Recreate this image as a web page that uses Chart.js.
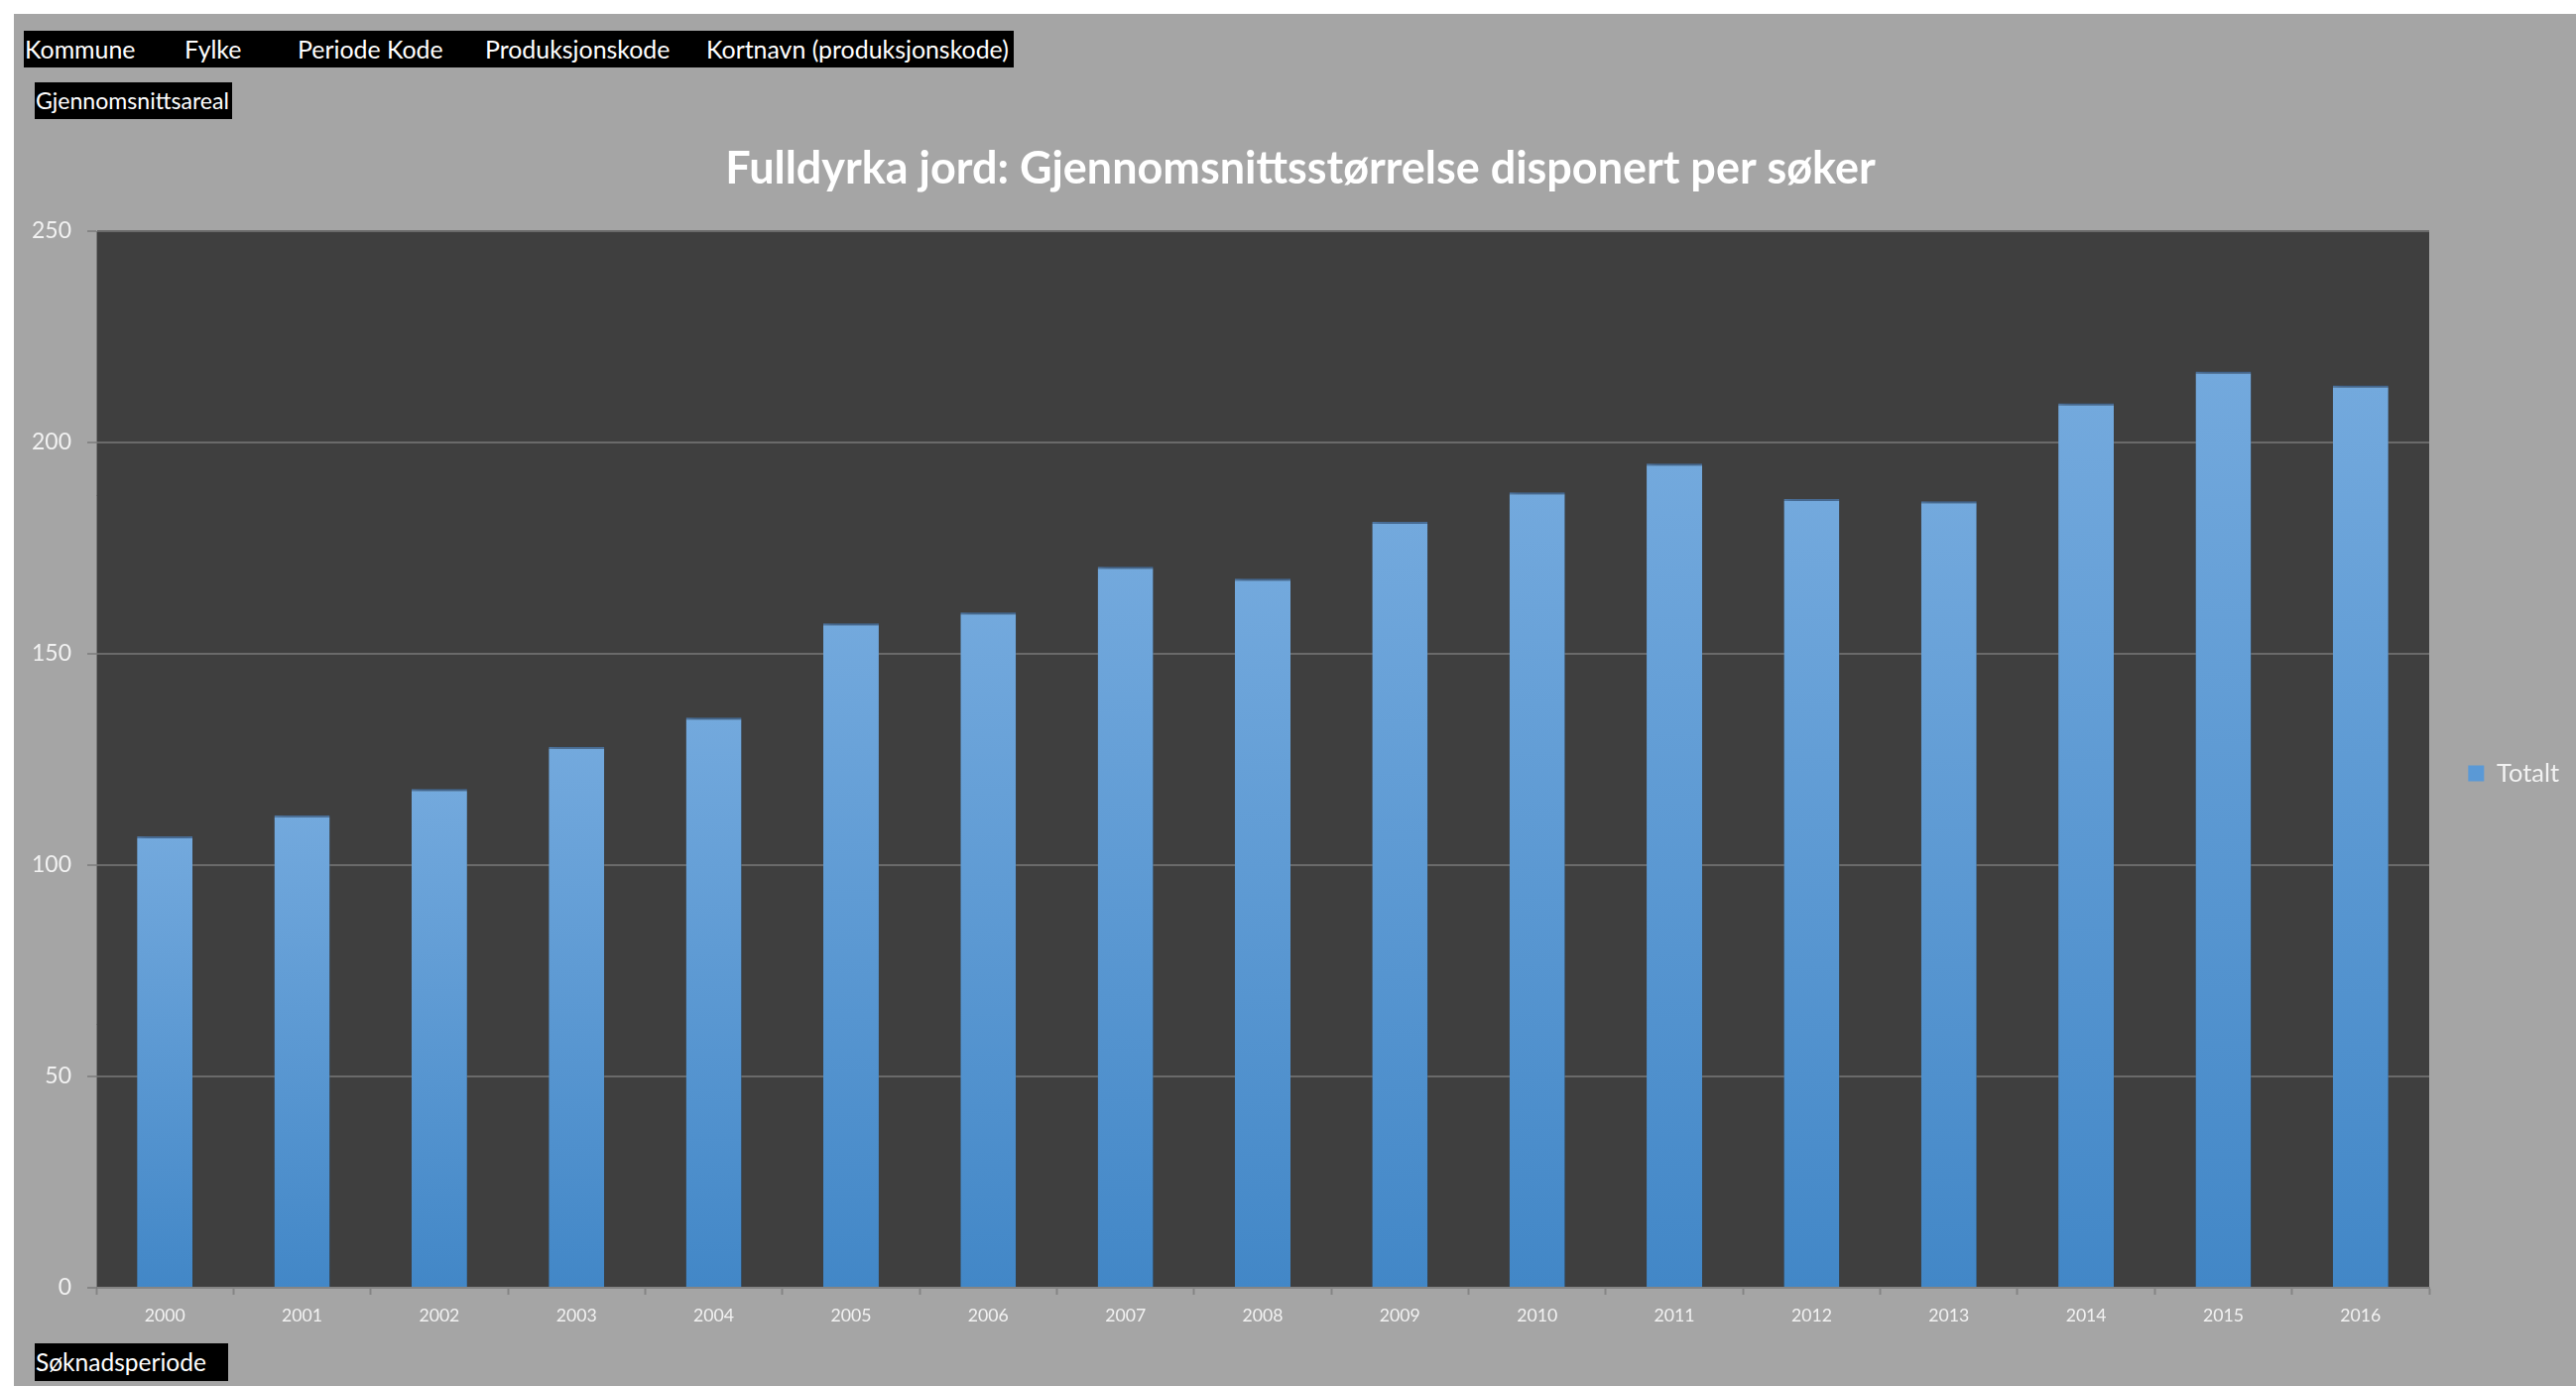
<!DOCTYPE html>
<html><head><meta charset="utf-8">
<script src="https://cdn.jsdelivr.net/npm/chart.js@4.4.1/dist/chart.umd.min.js"></script>
<style>
html,body{margin:0;padding:0;background:#fff;}
body{width:2597px;height:1397px;position:relative;overflow:hidden;font-family:Lato,"Open Sans",sans-serif;}
#panel{position:absolute;left:14px;top:14px;width:2583px;height:1383px;background:#a5a5a5;}
#c{position:absolute;left:0;top:0;}
.btn{position:absolute;background:#000;color:#fff;white-space:nowrap;}
.btn span{position:absolute;top:0;}
</style></head><body>
<div id="panel"><canvas id="c" width="2583" height="1383"></canvas></div>
<script>
// ---- data ----
const filterFields = ['Kommune', 'Fylke', 'Periode Kode', 'Produksjonskode', 'Kortnavn (produksjonskode)'];
const valueField = 'Gjennomsnittsareal';
const axisField = 'Søknadsperiode';
const chartTitle = 'Fulldyrka jord: Gjennomsnittsstørrelse disponert per søker';
const seriesName = 'Totalt';
const years = ['2000','2001','2002','2003','2004','2005','2006','2007','2008','2009','2010','2011','2012','2013','2014','2015','2016'];
const totalt = [106.8, 111.8, 118.0, 128.0, 134.9, 157.2, 159.8, 170.6, 167.8, 181.2, 188.2, 195.0, 186.6, 186.1, 209.3, 216.8, 213.5];
const yMin = 0, yMax = 250, yStep = 50;

// ---- layout helpers ----
const fam = 'Lato, "Open Sans", sans-serif';
const mctx = document.createElement('canvas').getContext('2d');
function fitSize(text, weight, target) {
  mctx.font = weight + ' 100px ' + fam;
  return 100 * target / mctx.measureText(text).width;
}
const panel = document.getElementById('panel');
function makeBtn(left, top, w, h, items) {
  const d = document.createElement('div');
  d.className = 'btn';
  d.style.cssText = `left:${left}px;top:${top}px;width:${w}px;height:${h}px;`;
  items.forEach(it => {
    const s = document.createElement('span');
    s.textContent = it.text;
    s.style.left = it.x + 'px';
    s.style.fontSize = it.size + 'px';
    s.style.lineHeight = h + 'px';
    d.appendChild(s);
  });
  panel.appendChild(d);
}
const btnSize = fitSize(filterFields[4], 'normal', 305);
const fieldX = [1, 162, 276, 465, 688];
makeBtn(10, 17, 998, 37, filterFields.map((t, i) => ({text: t, x: fieldX[i], size: btnSize})));
makeBtn(21, 69, 199, 37, [{text: valueField, x: 1, size: fitSize(valueField, 'normal', 195)}]);
makeBtn(21, 1340, 195, 38, [{text: axisField, x: 1, size: fitSize(axisField, 'normal', 172)}]);

const titleSize = fitSize(chartTitle, 'bold', 1160);
const yTickSize = fitSize('250', 'normal', 40);
const xTickSize = fitSize('2000', 'normal', 41);
const legendSize = fitSize(seriesName, 'normal', 63);
mctx.font = 'normal ' + legendSize + 'px ' + fam;
const legendW = 10 + 16 + legendSize / 2 + mctx.measureText(seriesName).width + 10;
const padR = 7, plotRight = 2435;
const rightGap = 2583 - padR - legendW - plotRight;

function barFill(c) {
  const chart = c.chart, area = chart.chartArea;
  if (!area || c.type !== 'data') return '#5a99d6';
  const ys = chart.scales.y;
  const top = ys.getPixelForValue(c.raw), bottom = ys.getPixelForValue(0);
  const g = chart.ctx.createLinearGradient(0, top, 0, bottom);
  g.addColorStop(0, '#73a9dd');
  g.addColorStop(1, '#4287c7');
  return g;
}

const plotBg = {
  id: 'plotBg',
  beforeDraw(chart) {
    const {ctx, chartArea: a} = chart;
    ctx.save();
    ctx.fillStyle = '#3f3f3f';
    ctx.fillRect(a.left, a.top, a.right - a.left, a.bottom - a.top);
    ctx.restore();
  }
};
const barShadow = {
  id: 'barShadow',
  beforeDatasetsDraw(chart) {
    const ctx = chart.ctx;
    ctx.save();
    ctx.shadowColor = 'rgba(0,0,0,0.55)';
    ctx.shadowBlur = 9;
    ctx.shadowOffsetX = 3;
    ctx.shadowOffsetY = 2;
  },
  afterDatasetsDraw(chart) { chart.ctx.restore(); }
};

new Chart(document.getElementById('c'), {
  type: 'bar',
  data: {
    labels: years,
    datasets: [{
      label: seriesName,
      data: totalt,
      backgroundColor: barFill,
      borderColor: '#527cab',
      borderWidth: {top: 2, left: 0, right: 0, bottom: 0},
      borderSkipped: 'start',
      categoryPercentage: 1.0,
      barPercentage: 0.405
    }]
  },
  options: {
    responsive: false,
    devicePixelRatio: 1,
    animation: false,
    layout: {padding: {left: 18, right: padR, top: 0, bottom: 39}},
    plugins: {
      tooltip: {enabled: false},
      title: {
        display: true,
        text: chartTitle,
        color: '#ffffff',
        font: {family: fam, size: titleSize, weight: 'bold', lineHeight: 1.2},
        padding: {top: 130, bottom: 219 - 130 - titleSize * 1.2}
      },
      legend: {
        display: true,
        position: 'right',
        fullSize: false,
        align: 'center',
        title: {display: true, text: ' ', font: {size: 10, lineHeight: 1.2}, padding: {top: 8, bottom: 8}},
        labels: {
          boxWidth: 16, boxHeight: 16, padding: 10,
          color: '#f2f2f2',
          font: {family: fam, size: legendSize},
          generateLabels: (chart) => [{
            text: seriesName, fillStyle: '#5a99d6', strokeStyle: 'rgba(0,0,0,0)',
            lineWidth: 0, hidden: false, datasetIndex: 0, fontColor: '#f2f2f2'
          }]
        }
      }
    },
    scales: {
      x: {
        offset: true,
        afterFit(s) { s.height = 60; },
        grid: {display: true, drawOnChartArea: false, drawTicks: true, tickLength: 7, tickColor: '#858585', tickWidth: 2, offset: true},
        border: {display: true, color: '#858585', width: 2},
        ticks: {color: '#f2f2f2', padding: 11, font: {family: fam, size: xTickSize}, maxRotation: 0, autoSkip: false}
      },
      y: {
        min: yMin, max: yMax,
        afterFit(s) { s.width = 65; },
        grid: {color: '#6a6a6a', lineWidth: 2, drawTicks: true, tickLength: 9, tickColor: '#858585', tickWidth: 2},
        border: {display: true, color: '#7a7a7a', width: 1},
        ticks: {stepSize: yStep, color: '#f2f2f2', padding: 16, font: {family: fam, size: yTickSize}}
      },
      y2: {
        position: 'right',
        display: true,
        afterFit(s) { s.width = rightGap; },
        grid: {display: false, drawTicks: false},
        border: {display: false},
        ticks: {display: false}
      }
    }
  },
  plugins: [plotBg, barShadow]
});
</script>
</body></html>
